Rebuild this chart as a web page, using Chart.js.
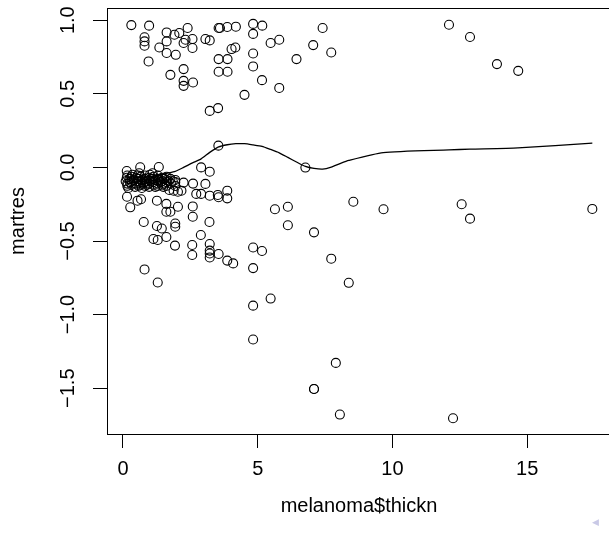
<!DOCTYPE html>
<html>
<head>
<meta charset="utf-8">
<script src="https://cdn.jsdelivr.net/npm/chart.js@4"></script>
<style>
  html, body { margin: 0; padding: 0; background: #fff; overflow: hidden; }
  #wrap { position: relative; width: 620px; height: 535px; }
  #nav { position: absolute; left: 592px; top: 517px; color: #c9c9e6; font: 9px "DejaVu Sans"; }
</style>
</head>
<body>
<div id="wrap">
  <canvas id="c" width="620" height="535"></canvas>
  <span id="nav">◀</span>
</div>
<script>
// ---- DATA ----
// residuals above zero
const topX = [0.31,0.97,0.80,0.80,0.80,0.95,1.35,1.62,1.62,1.62,1.91,2.09,2.40,2.32,2.25,2.58,2.58,1.96,1.76,2.25,
              2.25,2.25,2.60,3.06,3.22,3.55,3.60,3.87,4.19,4.83,5.17,4.83,4.17,4.03,3.55,3.88,3.55,3.88,4.83,4.83,
              5.16,4.51,3.22,3.53,5.48,5.80,6.44,7.06,7.41,7.73,5.80,12.10,12.88,13.88,14.67,3.54,6.77];
const topY = [0.967,0.963,0.884,0.856,0.827,0.720,0.815,0.917,0.856,0.777,0.901,0.913,0.947,0.867,0.845,0.872,0.811,0.765,0.629,0.668,
              0.588,0.554,0.577,0.872,0.863,0.947,0.947,0.954,0.956,0.975,0.963,0.907,0.815,0.804,0.736,0.736,0.650,0.650,0.774,0.686,
              0.593,0.493,0.384,0.403,0.845,0.867,0.736,0.831,0.947,0.781,0.540,0.969,0.886,0.702,0.656,0.148,-0.001];

// the dense blob of thin tumours just below zero
const blobX = [0.10,0.16,0.16,0.16,0.24,0.26,0.32,0.32,0.32,0.40,0.48,0.48,0.52,0.58,0.58,0.65,0.65,0.65,0.71,0.75,
               0.81,0.81,0.81,0.81,0.88,0.97,0.97,0.97,0.97,1.03,1.08,1.13,1.13,1.13,1.20,1.29,1.29,1.29,1.29,1.29,
               1.34,1.40,1.45,1.45,1.45,1.53,1.56,1.62,1.62,1.62,1.62,1.70,1.76,1.78,1.85,1.94,0.20,0.45,0.70,1.00,
               1.20,0.35,0.60,0.14,0.90,1.50,1.10,0.55];
const blobY = [-0.094,-0.055,-0.110,-0.125,-0.078,-0.100,-0.063,-0.117,-0.094,-0.086,-0.070,-0.110,-0.094,-0.078,-0.125,-0.063,-0.100,-0.117,-0.086,-0.110,
               -0.055,-0.078,-0.100,-0.125,-0.094,-0.070,-0.086,-0.110,-0.132,-0.094,-0.078,-0.063,-0.100,-0.117,-0.086,-0.055,-0.078,-0.094,-0.110,-0.125,
               -0.086,-0.100,-0.070,-0.094,-0.117,-0.078,-0.110,-0.063,-0.086,-0.100,-0.125,-0.094,-0.078,-0.110,-0.094,-0.100,-0.140,-0.132,-0.140,-0.050,
               -0.132,-0.050,-0.040,-0.070,-0.117,-0.132,-0.040,-0.055];

// residuals below the blob
const lowX = [0.64,1.33,0.14,2.90,3.22,1.94,2.25,2.60,3.06,1.94,2.17,1.72,1.88,2.04,2.72,2.90,3.22,3.52,3.55,3.87,
              3.87,0.15,0.54,0.67,0.27,1.26,1.61,1.61,1.76,2.04,2.59,2.59,3.21,0.77,1.26,1.44,1.94,1.94,1.13,1.29,
              1.61,2.89,1.93,2.57,2.57,3.22,3.22,3.22,3.22,3.55,3.87,4.09,4.83,5.16,4.83,0.80,1.29,4.83,4.83,5.48];
const lowY = [0.001,0.003,-0.024,0.000,-0.029,-0.085,-0.103,-0.110,-0.112,-0.126,-0.158,-0.153,-0.158,-0.165,-0.180,-0.180,-0.192,-0.187,-0.203,-0.158,
              -0.210,-0.199,-0.226,-0.216,-0.271,-0.226,-0.248,-0.301,-0.301,-0.267,-0.265,-0.335,-0.371,-0.371,-0.398,-0.415,-0.381,-0.403,-0.486,-0.493,
              -0.473,-0.459,-0.531,-0.527,-0.595,-0.520,-0.565,-0.585,-0.612,-0.588,-0.633,-0.652,-0.544,-0.568,-0.684,-0.693,-0.782,-0.939,-1.169,-0.891];

// thick tumours, negative side
const farX = [5.64,6.12,6.12,7.09,7.73,8.38,8.55,9.67,12.57,12.88,17.42,7.90,7.09,7.09,8.05,12.25];
const farY = [-0.284,-0.267,-0.393,-0.441,-0.620,-0.784,-0.233,-0.284,-0.250,-0.348,-0.282,-1.328,-1.505,-1.505,-1.679,-1.704];

// lowess smooth
const smoothX = [0.10,0.65,1.13,1.62,1.94,2.25,2.58,2.90,3.22,3.55,3.87,4.19,4.51,4.83,5.16,5.48,5.80,6.12,6.44,6.77,
                 7.09,7.41,7.73,8.05,8.38,9.66,12.10,12.88,14.66,17.42];
const smoothY = [-0.065,-0.065,-0.061,-0.040,-0.027,0.000,0.031,0.058,0.102,0.139,0.154,0.161,0.161,0.153,0.143,0.122,0.099,0.068,0.037,0.007,
                 -0.007,-0.012,0.002,0.026,0.048,0.101,0.119,0.124,0.133,0.165];

const xTicks = [0, 5, 10, 15];
const yTicks = [1.0, 0.5, 0.0, -0.5, -1.0, -1.5];
const yTickLabels = ['1.0', '0.5', '0.0', '\u22120.5', '\u22121.0', '\u22121.5'];

// ---- STYLE ----
const FONT = '"Liberation Sans", Arial, Helvetica, sans-serif';
const FONT_SIZE = 20;
const Y_LABEL_X = 68;

function pairs(xs, ys) {
  return xs.map((x, i) => ({ x: x, y: ys[i] }));
}

const points = [].concat(
  pairs(topX, topY), pairs(blobX, blobY), pairs(lowX, lowY), pairs(farX, farY)
);

// box round the plot region + vertical y tick labels (R style)
const framePlugin = {
  id: 'frame',
  afterDraw(chart) {
    const { ctx, chartArea: a, scales: { y } } = chart;
    ctx.save();
    ctx.strokeStyle = '#000';
    ctx.lineWidth = 1;
    const l = Math.round(a.left) + 0.5, t = Math.round(a.top) + 0.5;
    const r = Math.round(a.right) + 0.5, b = Math.round(a.bottom) + 0.5;
    ctx.strokeRect(l, t, r - l, b - t);
    ctx.fillStyle = '#000';
    ctx.font = FONT_SIZE + 'px ' + FONT;
    ctx.textAlign = 'center';
    ctx.textBaseline = 'middle';
    yTicks.forEach((v, i) => {
      ctx.save();
      ctx.translate(Y_LABEL_X, y.getPixelForValue(v));
      ctx.rotate(-Math.PI / 2);
      ctx.fillText(yTickLabels[i], 0, 0);
      ctx.restore();
    });
    ctx.restore();
  }
};

new Chart(document.getElementById('c'), {
  type: 'scatter',
  data: {
    datasets: [
      {
        data: points,
        pointStyle: 'circle',
        pointRadius: 4.5,
        pointBorderWidth: 1.1,
        borderColor: '#000',
        backgroundColor: 'rgba(0,0,0,0)'
      },
      {
        type: 'line',
        data: pairs(smoothX, smoothY),
        borderColor: '#000',
        borderWidth: 1.3,
        pointRadius: 0,
        tension: 0.2,
        fill: false
      }
    ]
  },
  options: {
    responsive: false,
    animation: false,
    devicePixelRatio: 1,
    layout: { padding: { top: 8, right: 9, left: 0, bottom: 0 } },
    plugins: { legend: { display: false }, tooltip: { enabled: false } },
    scales: {
      x: {
        type: 'linear',
        min: -0.593,
        max: 18.113,
        afterBuildTicks: s => { s.ticks = xTicks.map(v => ({ value: v })); },
        afterFit: s => { s.height = 101; },
        grid: { drawOnChartArea: false, drawTicks: true, tickLength: 14, tickColor: '#000', lineWidth: 1 },
        border: { color: '#000', width: 1 },
        ticks: { color: '#000', font: { family: FONT, size: FONT_SIZE }, padding: 9, maxRotation: 0, autoSkip: false },
        title: { display: true, text: 'melanoma$thickn', color: '#000',
                 font: { family: FONT, size: FONT_SIZE }, padding: { top: 0, bottom: 17 } }
      },
      y: {
        type: 'linear',
        min: -1.811,
        max: 1.083,
        afterBuildTicks: s => { s.ticks = yTicks.map(v => ({ value: v })); },
        afterFit: s => { s.width = 107; },
        grid: { drawOnChartArea: false, drawTicks: true, tickLength: 14, tickColor: '#000', lineWidth: 1 },
        border: { color: '#000', width: 1 },
        ticks: { display: false },
        title: { display: true, text: 'martres', color: '#000',
                 font: { family: FONT, size: FONT_SIZE }, padding: { top: 6, bottom: 0 } }
      }
    }
  },
  plugins: [framePlugin]
});
</script>
</body>
</html>
